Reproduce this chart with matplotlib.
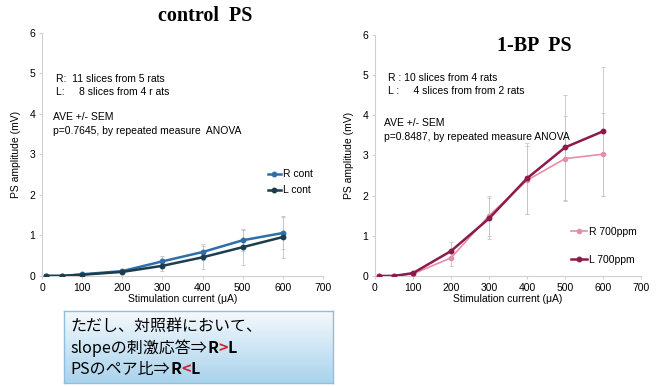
import numpy as np
import matplotlib
matplotlib.use("Agg")
import matplotlib.pyplot as plt
from matplotlib.lines import Line2D
from matplotlib.colors import LinearSegmentedColormap
from matplotlib.offsetbox import TextArea, HPacker, VPacker, AnchoredOffsetbox

plt.rcParams['font.family'] = ['Liberation Sans', 'DejaVu Sans']

# Stimulation currents (uA)
current = [10, 50, 100, 200, 300, 400, 500, 600]

# Control group PS amplitude (mV)
r_cont = [0.00, 0.00, 0.04, 0.12, 0.36, 0.59, 0.88, 1.06]
r_cont_sem = [0.01, 0.01, 0.02, 0.04, 0.13, 0.20, 0.26, 0.40]
l_cont = [0.00, 0.00, 0.03, 0.10, 0.25, 0.46, 0.71, 0.96]
l_cont_sem = [0.01, 0.01, 0.02, 0.04, 0.14, 0.28, 0.44, 0.52]

# 1-BP (700 ppm) group PS amplitude (mV)
r_bp = [0.00, 0.00, 0.05, 0.45, 1.50, 2.38, 2.92, 3.03]
r_bp_sem = [0.01, 0.01, 0.03, 0.20, 0.50, 0.85, 1.05, 1.03]
l_bp = [0.00, 0.00, 0.07, 0.62, 1.43, 2.43, 3.20, 3.60]
l_bp_sem = [0.01, 0.01, 0.03, 0.22, 0.52, 0.88, 1.30, 1.60]

xticks = [0, 100, 200, 300, 400, 500, 600, 700]
yticks = [0, 1, 2, 3, 4, 5, 6]

fig = plt.figure(figsize=(6.59, 3.87), dpi=100)

def style_axes(ax):
    ax.set_xlim(0, 700)
    ax.set_ylim(0, 6)
    ax.set_xticks(xticks)
    ax.set_yticks(yticks)
    for s in ('top', 'right'):
        ax.spines[s].set_visible(False)
    for s in ('left', 'bottom'):
        ax.spines[s].set_color('#d0d0d0')
        ax.spines[s].set_linewidth(0.8)
    ax.tick_params(labelsize=7.5, length=2, color='#d0d0d0', pad=3)
    ax.set_ylabel('PS amplitude (mV)', fontsize=7.5, labelpad=6)
    ax.set_xlabel('Stimulation current (μA)', fontsize=7.5, labelpad=1)

def series(ax, y, sem, color, lw, ms):
    ax.errorbar(current, y, yerr=sem, color=color, lw=lw, marker='o', ms=ms,
                ecolor='#c4c4c4', elinewidth=0.6, capsize=1.2, capthick=0.6,
                zorder=3)
    return Line2D([], [], color=color, lw=lw, marker='o', ms=ms)

# Left panel: control
ax1 = fig.add_axes([0.064, 0.287, 0.426, 0.628])
style_axes(ax1)
h1 = series(ax1, r_cont, r_cont_sem, '#2f6ea8', 1.8, 3.2)
h2 = series(ax1, l_cont, l_cont_sem, '#1c3d4e', 1.8, 3.2)
ax1.legend([h1, h2], ['R cont', 'L cont'], loc='center left',
           bbox_to_anchor=(0.77, 0.385), frameon=False,
           fontsize=7.5, handlelength=1.3, handletextpad=0.2, labelspacing=0.6)
ax1.text(0.05, 0.80, 'R:  11 slices from 5 rats', transform=ax1.transAxes, fontsize=7.5)
ax1.text(0.05, 0.745, 'L:     8 slices from 4 r ats', transform=ax1.transAxes, fontsize=7.5)
ax1.text(0.04, 0.64, 'AVE +/- SEM', transform=ax1.transAxes, fontsize=7.5)
ax1.text(0.04, 0.585, 'p=0.7645, by repeated measure  ANOVA', transform=ax1.transAxes, fontsize=7.5)
fig.text(0.311, 0.958, 'control  PS', ha='center', va='center', fontsize=14.5,
         fontweight='bold', family='Liberation Serif')

# Right panel: 1-BP
ax2 = fig.add_axes([0.569, 0.287, 0.404, 0.623])
style_axes(ax2)
h3 = series(ax2, r_bp, r_bp_sem, '#e58fa6', 1.2, 3.0)
h4 = series(ax2, l_bp, l_bp_sem, '#8c1a4c', 1.8, 3.2)
ax2.legend([h3, h4], ['R 700ppm', 'L 700ppm'], loc='center left',
           bbox_to_anchor=(0.70, 0.125), frameon=False,
           fontsize=7.5, handlelength=1.6, handletextpad=0.2, labelspacing=1.7)
ax2.text(0.05, 0.81, 'R : 10 slices from 4 rats', transform=ax2.transAxes, fontsize=7.5)
ax2.text(0.05, 0.755, 'L :     4 slices from from 2 rats', transform=ax2.transAxes, fontsize=7.5)
ax2.text(0.035, 0.62, 'AVE +/- SEM', transform=ax2.transAxes, fontsize=7.5)
ax2.text(0.035, 0.565, 'p=0.8487, by repeated measure ANOVA', transform=ax2.transAxes, fontsize=7.5)
ax2.text(0.60, 0.955, '1-BP  PS', transform=ax2.transAxes, ha='center', va='center',
         fontsize=14.5, fontweight='bold', family='Liberation Serif')

# Note box with gradient fill
axb = fig.add_axes([0.097, 0.010, 0.408, 0.186])
grad = np.linspace(0, 1, 64).reshape(-1, 1)
cmap = LinearSegmentedColormap.from_list('note', ['#f4f9fd', '#a9d3ec'])
axb.imshow(grad, aspect='auto', cmap=cmap, extent=[0, 1, 0, 1], origin='upper')
axb.set_xticks([])
axb.set_yticks([])
for s in axb.spines.values():
    s.set_color('#8cc0e0')
    s.set_linewidth(1.0)

jp = ['Noto Sans CJK JP', 'DejaVu Sans']
fs = 11.5

def piece(txt, color='black', weight='normal'):
    return TextArea(txt, textprops=dict(fontsize=fs, color=color, family=jp, fontweight=weight))

line1 = HPacker(children=[piece('ただし、対照群において、')], pad=0, sep=0)
line2 = HPacker(children=[piece('slopeの刺激応答⇒'), piece('R', weight='bold'),
                          piece('>', color='#d0202a', weight='bold'), piece('L', weight='bold')],
                pad=0, sep=0)
line3 = HPacker(children=[piece('PSのペア比⇒'), piece('R', weight='bold'),
                          piece('<', color='#d0202a', weight='bold'), piece('L', weight='bold')],
                pad=0, sep=0)
block = VPacker(children=[line1, line2, line3], align='left', pad=0, sep=3)
anch = AnchoredOffsetbox(loc='upper left', child=block, frameon=False,
                         bbox_to_anchor=(0.025, 0.90), bbox_transform=axb.transAxes,
                         borderpad=0, pad=0)
axb.add_artist(anch)

fig.savefig('out.png', dpi=100)
